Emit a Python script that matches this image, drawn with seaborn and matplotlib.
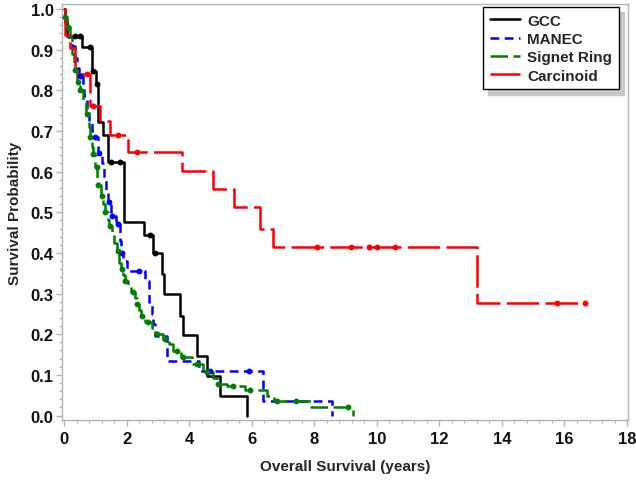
import numpy as np
import pandas as pd
import matplotlib
matplotlib.use("Agg")
import matplotlib.pyplot as plt
from matplotlib.ticker import MultipleLocator
import seaborn as sns

# ---------------- data ----------------
gcc_t = [0, 0.02, 0.10, 0.57, 0.88, 1.03, 1.10, 1.25, 1.40, 1.92, 2.55, 2.85, 3.12, 3.20, 3.70, 3.80, 4.24, 4.56, 4.99, 5.84]
gcc_s = [1.0, 0.967, 0.933, 0.906, 0.848, 0.816, 0.723, 0.689, 0.623, 0.476, 0.443, 0.400, 0.349, 0.300, 0.246, 0.197, 0.147, 0.098, 0.049, 0.0]
gcc_cens = [0.35, 0.50, 0.84, 0.94, 1.06, 1.49, 1.79, 2.75, 2.92]

manec_t = [0, 0.02, 0.10, 0.14, 0.25, 0.35, 0.42, 0.47, 0.60, 0.65, 0.75, 0.80, 0.90, 0.97, 1.08, 1.20, 1.28,
           1.35, 1.42, 1.50, 1.65, 1.78, 1.82, 1.90, 2.00, 2.58, 2.72, 2.80, 2.86, 2.92, 3.28, 4.30, 6.37, 8.57]
manec_s = [1.0, 0.975, 0.95, 0.93, 0.91, 0.88, 0.855, 0.835, 0.81, 0.785, 0.755, 0.72, 0.70, 0.685, 0.645, 0.62, 0.585,
           0.555, 0.525, 0.49, 0.47, 0.43, 0.40, 0.38, 0.356, 0.33, 0.28, 0.25, 0.225, 0.196, 0.134, 0.11, 0.036, 0.0]
manec_cens = [0.50, 1.00, 1.12, 1.45, 1.53, 1.72, 1.84, 2.40, 4.67, 5.93]

signet_t = [0, 0.02, 0.08, 0.20, 0.27, 0.32, 0.42, 0.50, 0.60, 0.70, 0.80, 0.82, 0.90, 0.93, 1.00, 1.06, 1.09,
            1.17, 1.25, 1.30, 1.40, 1.45, 1.53, 1.60, 1.70, 1.77, 1.83, 1.90, 1.94, 2.05, 2.15, 2.28, 2.32,
            2.40, 2.47, 2.60, 2.80, 2.93, 3.15, 3.35, 3.50, 3.75, 4.10, 4.45, 4.75, 4.88, 5.20, 5.80, 6.50,
            6.70, 7.90, 9.24]
signet_s = [1.0, 0.98, 0.955, 0.93, 0.89, 0.85, 0.82, 0.80, 0.775, 0.742, 0.71, 0.686, 0.66, 0.644, 0.612, 0.585, 0.566,
            0.541, 0.52, 0.50, 0.48, 0.467, 0.445, 0.425, 0.405, 0.375, 0.36, 0.345, 0.332, 0.318, 0.304, 0.29, 0.275,
            0.26, 0.245, 0.23, 0.215, 0.20, 0.188, 0.175, 0.159, 0.144, 0.127, 0.107, 0.092, 0.078, 0.072, 0.062, 0.048,
            0.036, 0.02, 0.0]
signet_cens = [0.03, 0.14, 0.35, 0.46, 0.52, 0.72, 0.83, 0.94, 1.04, 1.10, 1.20, 1.31, 1.47, 1.73, 1.85, 1.95,
               2.20, 2.33, 2.49, 2.69, 2.97, 3.23, 3.60, 3.81, 4.24, 4.57, 4.93, 5.41, 5.95, 6.80, 7.43, 9.08]

carc_t = [0, 0.03, 0.20, 0.35, 0.83, 1.15, 1.47, 2.05, 3.78, 4.77, 5.45, 6.27, 6.68, 13.20, 16.66]
carc_s = [1.0, 0.935, 0.905, 0.84, 0.762, 0.725, 0.689, 0.648, 0.602, 0.557, 0.513, 0.459, 0.415, 0.277, 0.277]
carc_cens = [0.73, 0.94, 1.73, 2.33, 8.09, 9.18, 9.76, 10.00, 10.58, 15.76, 16.66]

labels = ["GCC", "MANEC", "Signet Ring", "Carcinoid"]
colors = ["#000000", "#0000ff", "#008000", "#ff0000"]
x_ticks = [0, 2, 4, 6, 8, 10, 12, 14, 16, 18]
y_ticks = [0.0, 0.1, 0.2, 0.3, 0.4, 0.5, 0.6, 0.7, 0.8, 0.9, 1.0]

# ---------------- plotting ----------------
sns.set_theme(style="white")
plt.rcParams["font.family"] = ["Liberation Sans", "DejaVu Sans"]
plt.rcParams["font.weight"] = "bold"

fig = plt.figure(figsize=(6.36, 4.81), dpi=100)
ax = fig.add_axes([62 / 636, 60 / 481, 566 / 636, 416 / 481])

series = [
    (gcc_t, gcc_s, gcc_cens, "-"),
    (manec_t, manec_s, manec_cens, (0, (3.5, 2.2))),
    (signet_t, signet_s, signet_cens, (0, (7, 2.2))),
    (carc_t, carc_s, carc_cens, (0, (13, 2.5))),
]

handles = []
for (t, s, cens, ls), lab, col in zip(series, labels, colors):
    df = pd.DataFrame({"t": t, "s": s})
    sns.lineplot(data=df, x="t", y="s", ax=ax, color=col, linewidth=1.8,
                 drawstyle="steps-post", estimator=None, sort=False,
                 linestyle=ls, label=lab, legend=False)
    t_arr = np.asarray(t)
    s_arr = np.asarray(s)
    idx = np.searchsorted(t_arr, np.asarray(cens), side="right") - 1
    cdf = pd.DataFrame({"t": cens, "s": s_arr[idx]})
    sns.scatterplot(data=cdf, x="t", y="s", ax=ax, color=col, s=18,
                    edgecolor=col, linewidth=0, legend=False, zorder=3)
    handles.append(plt.Line2D([], [], color=col, linewidth=1.8, linestyle=ls))

ax.set_xlim(-0.064, 18.03)
ax.set_ylim(-0.011, 1.0123)
ax.set_xticks(x_ticks)
ax.set_yticks(y_ticks)
ax.set_xticklabels([str(v) for v in x_ticks])
ax.set_yticklabels([f"{v:.1f}" for v in y_ticks])
ax.xaxis.set_minor_locator(MultipleLocator(0.4))
ax.yaxis.set_minor_locator(MultipleLocator(0.02))

for sp in ax.spines.values():
    sp.set_color("#b4b4b4")
    sp.set_linewidth(1.0)

ax.tick_params(axis="both", which="major", direction="out", length=4, width=1,
               color="#b4b4b4", labelsize=12, labelcolor="#111111", pad=2,
               bottom=True, left=True)
ax.tick_params(axis="x", which="major", pad=4)
ax.tick_params(axis="both", which="minor", direction="out", length=2.5, width=0.8,
               color="#b4b4b4", bottom=True, left=True)
for lab in ax.get_xticklabels() + ax.get_yticklabels():
    lab.set_fontweight("bold")

ax.set_xlabel("Overall Survival (years)", fontsize=11, fontweight="bold", labelpad=9)
ax.set_ylabel("Survival Probability", fontsize=11, fontweight="bold", labelpad=6)

leg = ax.legend(handles, labels, loc="upper right", bbox_to_anchor=(0.984, 0.993),
                borderaxespad=0, frameon=True, fancybox=False,
                shadow={"ox": 4, "oy": -4, "color": "#c8c8c8", "alpha": 1.0},
                prop={"weight": "bold", "size": 11},
                handlelength=2.0, handletextpad=0.45, labelspacing=0.28,
                borderpad=0.45)
leg.get_frame().set_edgecolor("#000000")
leg.get_frame().set_linewidth(1.0)
leg.get_frame().set_alpha(1.0)

fig.savefig("out.png", dpi=100)
